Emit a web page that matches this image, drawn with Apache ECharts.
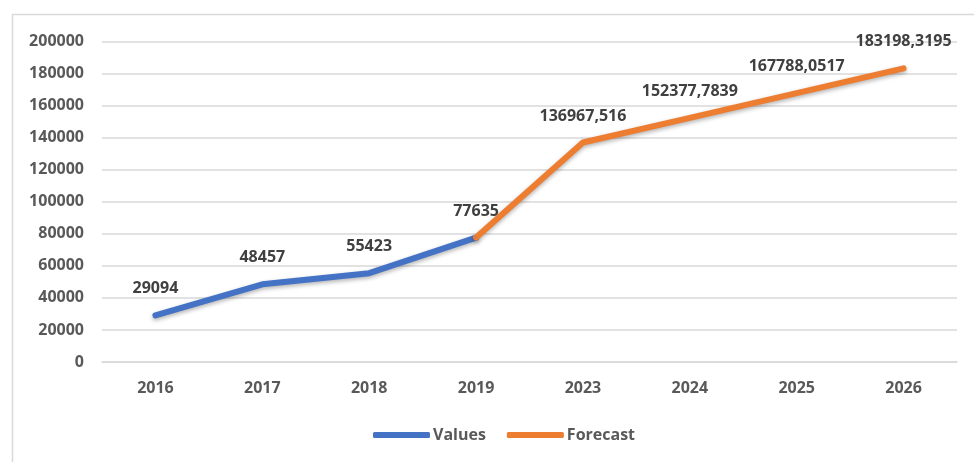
<!DOCTYPE html>
<html>
<head>
<meta charset="utf-8">
<script src="https://cdn.jsdelivr.net/npm/echarts@6/dist/echarts.min.js"></script>
<style>
  html, body { margin: 0; padding: 0; background: #fff; }
  #chart { width: 974px; height: 462px; }
</style>
</head>
<body>
<div id="chart"></div>
<script>
const years = ['2016', '2017', '2018', '2019', '2023', '2024', '2025', '2026'];
const values = [29094, 48457, 55423, 77635, null, null, null, null];
const forecast = [null, null, null, 77635, 136967.516, 152377.7839, 167788.0517, 183198.3195];
const yTicks = { min: 0, max: 200000, interval: 20000 };

const font = '"Open Sans", "Liberation Sans", sans-serif';

// Excel-style decimal comma
function fmt(v) {
  return String(v).replace('.', ',');
}

const chart = echarts.init(document.getElementById('chart'), null, { renderer: 'canvas' });

chart.setOption({
  animation: false,
  backgroundColor: '#fff',
  graphic: [
    {
      type: 'rect',
      left: 10,
      top: 12,
      shape: { width: 1000, height: 500 },
      style: { fill: 'none', stroke: '#d9d9d9', lineWidth: 1.5 },
      silent: true,
      z: -1
    }
  ],
  grid: { left: 102, right: 17, top: 41.5, bottom: 100, containLabel: false },
  legend: {
    top: 422,
    left: 368,
    itemWidth: 57,
    itemHeight: 6,
    itemGap: 21,
    icon: 'roundRect',
    textStyle: { fontFamily: font, fontSize: 16, fontWeight: 'bold', color: '#595959', padding: [0, 0, 0, -2] },
    data: ['Values', 'Forecast']
  },
  xAxis: {
    type: 'category',
    data: years,
    boundaryGap: true,
    axisLine: { lineStyle: { color: '#d9d9d9', width: 1.5 } },
    axisTick: { show: false },
    axisLabel: { fontFamily: font, fontSize: 16, fontWeight: 'bold', color: '#595959', margin: 18 }
  },
  yAxis: {
    type: 'value',
    min: yTicks.min,
    max: yTicks.max,
    interval: yTicks.interval,
    axisLine: { show: false },
    axisTick: { show: false },
    splitLine: { lineStyle: { color: '#d9d9d9', width: 1.5 } },
    axisLabel: {
      fontFamily: font, fontSize: 16, fontWeight: 'bold', color: '#595959', margin: 18,
      formatter: (v) => String(v)
    }
  },
  series: [
    {
      name: 'Values',
      type: 'line',
      data: values,
      color: '#4472C4',
      symbol: 'circle',
      symbolSize: 1,
      lineStyle: {
        width: 6,
        cap: 'round',
        join: 'round',
        shadowColor: 'rgba(0,0,0,0.3)',
        shadowBlur: 4,
        shadowOffsetY: 2
      },
      label: {
        show: true,
        position: 'top',
        distance: 18,
        fontFamily: font,
        fontSize: 16,
        fontWeight: 'bold',
        color: '#404040',
        formatter: (p) => fmt(p.value)
      }
    },
    {
      name: 'Forecast',
      type: 'line',
      data: forecast,
      color: '#ED7D31',
      symbol: 'circle',
      symbolSize: 1,
      lineStyle: {
        width: 6,
        cap: 'round',
        join: 'round',
        shadowColor: 'rgba(0,0,0,0.3)',
        shadowBlur: 4,
        shadowOffsetY: 2
      },
      label: {
        show: true,
        position: 'top',
        distance: 18,
        fontFamily: font,
        fontSize: 16,
        fontWeight: 'bold',
        color: '#404040',
        // 2019 point is already labelled by the Values series
        formatter: (p) => (p.dataIndex === 3 ? '' : fmt(p.value))
      }
    }
  ]
});
</script>
</body>
</html>
